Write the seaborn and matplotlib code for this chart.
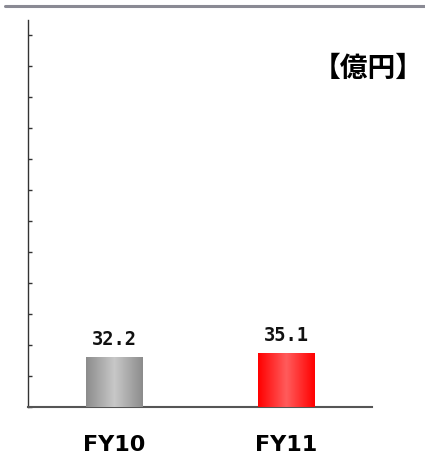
import matplotlib
matplotlib.use("Agg")
import matplotlib.pyplot as plt
import seaborn as sns
import numpy as np
import pandas as pd
from matplotlib.colors import LinearSegmentedColormap

# data
years = ["FY10", "FY11"]
values = [32.2, 35.1]
value_labels = ["32.2", "35.1"]
unit = "【億円】"

sns.set_style("white")
plt.rcParams['font.family'] = ['Noto Sans CJK JP', 'DejaVu Sans']

df = pd.DataFrame({"year": years, "value": values})

fig = plt.figure(figsize=(4.25, 4.57), dpi=100)
ax = fig.add_axes([28 / 425, 50 / 457, 344 / 425, 387 / 457])

sns.barplot(data=df, x="year", y="value", ax=ax, width=0.33,
            palette=["#aaaaaa", "#ff3333"], hue="year", legend=False,
            edgecolor="none", zorder=2)

# gradient fill on each bar (dark edges, light centre)
cmaps = [
    LinearSegmentedColormap.from_list("g", ["#8c8c8c", "#c8c8c8", "#8c8c8c"]),
    LinearSegmentedColormap.from_list("r", ["#ff0000", "#ff5c5c", "#ff0000"]),
]
grad = np.linspace(0, 1, 256).reshape(1, -1)
for patch, cm in zip(ax.patches, cmaps):
    x0, y0 = patch.get_x(), patch.get_y()
    w, h = patch.get_width(), patch.get_height()
    im = ax.imshow(grad, cmap=cm, aspect="auto", extent=[x0, x0 + w, y0, y0 + h],
                   zorder=3, interpolation="bilinear")
    im.set_clip_path(patch)

# value labels
for i, (v, lab) in enumerate(zip(values, value_labels)):
    ax.text(i, v + 5, lab, ha="center", va="bottom", fontsize=13.5,
            family="DejaVu Sans Mono", fontweight="bold", color="#111111")

ax.set_xlim(-0.5, 1.5)
ax.set_ylim(0, 250)
ax.set_yticks(np.arange(0, 250, 20))
ax.set_yticklabels([])
ax.tick_params(axis="y", direction="in", length=3, width=1, color="#333333", left=True)
ax.tick_params(axis="x", length=0, pad=20, labelsize=16, labelcolor="black")
for lab in ax.get_xticklabels():
    lab.set_fontweight("bold")
    lab.set_family("DejaVu Sans")
ax.set_xlabel("")
ax.set_ylabel("")
ax.set_facecolor("white")

for s in ["top", "right"]:
    ax.spines[s].set_visible(False)
ax.spines["left"].set_color("#333333")
ax.spines["left"].set_linewidth(1)
ax.spines["bottom"].set_color("#555555")
ax.spines["bottom"].set_linewidth(1.5)

# unit label and top rule
fig.text(368 / 425, 1 - 69 / 457, unit, ha="center", va="center",
         fontsize=20, fontweight="bold", color="black")
fig.add_artist(plt.Line2D([5 / 425, 1.0], [1 - 6 / 457, 1 - 6 / 457],
                          color="#8a8a94", linewidth=2.2, transform=fig.transFigure))

fig.savefig("out.png", dpi=100)
